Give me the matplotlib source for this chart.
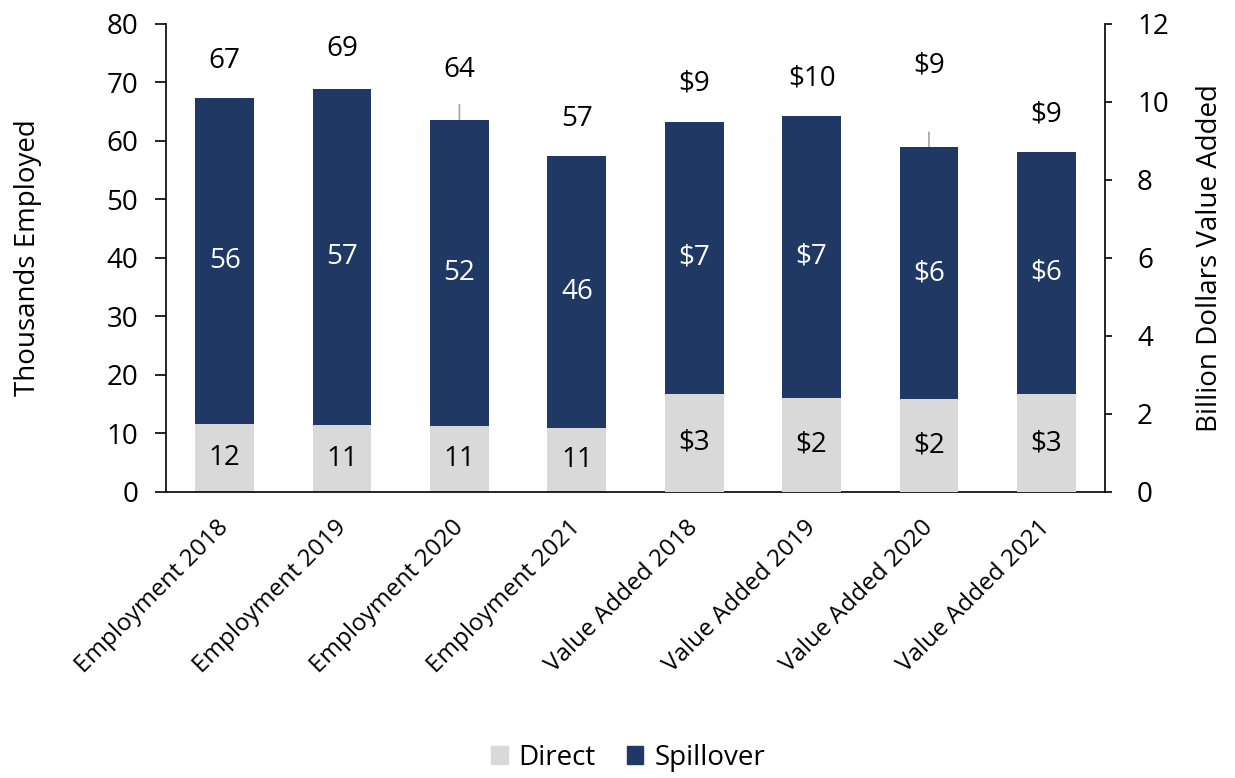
import matplotlib
matplotlib.use("Agg")
import matplotlib.pyplot as plt
import numpy as np
from matplotlib.patches import Patch
from matplotlib.transforms import ScaledTranslation

plt.rcParams['font.family'] = ['Open Sans', 'DejaVu Sans']

categories = ["Employment 2018", "Employment 2019", "Employment 2020", "Employment 2021",
              "Value Added 2018", "Value Added 2019", "Value Added 2020", "Value Added 2021"]

# Employment (thousands) - left axis
emp_direct = [11.6, 11.4, 11.2, 11.0]
emp_spill = [55.6, 57.4, 52.4, 46.3]
# Value added (billion $) - right axis
va_direct = [2.52, 2.42, 2.38, 2.51]
va_spill = [6.95, 7.22, 6.45, 6.20]

# style: vertical offset (px) of total labels above bar top, leader flag
label_offsets_px = [37, 40, 50, 37, 39, 37, 82, 37]
leader = [False, False, True, False, False, False, True, False]

c_direct = "#D9D9D9"
c_spill = "#203864"
FS = 20
FS_X = 17.5
DPI = 100

fig = plt.figure(figsize=(12.35, 7.78), dpi=DPI)
ax = fig.add_axes([166/1235, 1-492/778, (1105-166)/1235, (492-23.5)/778])
ax2 = ax.twinx()

x = np.arange(len(categories))
w = 0.5
xe = x[:4]
xv = x[4:]

ax.bar(xe, emp_direct, w, color=c_direct, zorder=2)
ax.bar(xe, emp_spill, w, bottom=emp_direct, color=c_spill, zorder=2)
ax2.bar(xv, va_direct, w, color=c_direct, zorder=2)
ax2.bar(xv, va_spill, w, bottom=va_direct, color=c_spill, zorder=2)

ax.set_ylim(0, 80)
ax2.set_ylim(0, 12)
ax.set_xlim(-0.5, len(categories) - 0.5)
ax.set_yticks(np.arange(0, 81, 10))
ax2.set_yticks(np.arange(0, 13, 2))

def px2pt(p):
    return p * 72 / DPI

# inner labels
for i, (d, s) in enumerate(zip(emp_direct, emp_spill)):
    ax.text(xe[i], d / 2, f"{d:.0f}", ha="center", va="center", fontsize=FS, color="black", zorder=3)
    ax.text(xe[i], d + s / 2, f"{s:.0f}", ha="center", va="center", fontsize=FS, color="white", zorder=3)
for i, (d, s) in enumerate(zip(va_direct, va_spill)):
    ax2.text(xv[i], d / 2, f"${d:.0f}", ha="center", va="center", fontsize=FS, color="black", zorder=3)
    ax2.text(xv[i], d + s / 2, f"${s:.0f}", ha="center", va="center", fontsize=FS, color="white", zorder=3)

# total labels
totals = [(ax, xe[i], emp_direct[i] + emp_spill[i], f"{emp_direct[i] + emp_spill[i]:.0f}") for i in range(4)] + \
         [(ax2, xv[i], va_direct[i] + va_spill[i], f"${va_direct[i] + va_spill[i]:.0f}") for i in range(4)]
for k, (a, xi, t, lab) in enumerate(totals):
    off = px2pt(label_offsets_px[k])
    a.annotate(lab, xy=(xi, t), xytext=(0, off), textcoords="offset points",
               ha="center", va="center", fontsize=FS, color="black", zorder=3)
    if leader[k]:
        a.annotate("", xy=(xi, t), xytext=(0, px2pt(15)), textcoords="offset points",
                   arrowprops=dict(arrowstyle="-", color="#A6A6A6", lw=1.2, shrinkA=0, shrinkB=0),
                   zorder=1)

ax.set_xticks(x)
ax.set_xticklabels(categories, rotation=45, ha="right", rotation_mode="anchor", fontsize=FS_X)
ax.tick_params(axis="x", length=0, pad=17)
shift = ScaledTranslation(-8 / DPI, 0, fig.dpi_scale_trans)
for lbl in ax.get_xticklabels():
    lbl.set_transform(lbl.get_transform() + shift)
ax.tick_params(axis="y", direction="out", length=8, width=1.2, labelsize=FS, pad=12)
ax2.tick_params(axis="y", direction="out", length=5, width=1.2, labelsize=FS, pad=18)

for a in (ax, ax2):
    a.spines["top"].set_visible(False)
    for s in ("left", "right", "bottom"):
        a.spines[s].set_linewidth(1.2)
ax.spines["right"].set_visible(False)
ax2.spines["left"].set_visible(False)
ax2.spines["bottom"].set_visible(False)

ax.set_ylabel("Thousands Employed", fontsize=FS, labelpad=46)
ax2.set_ylabel("Billion Dollars Value Added", fontsize=FS, labelpad=20)

handles = [Patch(color=c_direct, label="Direct"), Patch(color=c_spill, label="Spillover")]
fig.legend(handles=handles, loc="center", bbox_to_anchor=(628/1235, 1-758/778), ncol=2,
           frameon=False, fontsize=FS, handlelength=0.6, handleheight=0.6, handletextpad=0.4,
           columnspacing=1.1)

fig.savefig("out.png", dpi=DPI)
